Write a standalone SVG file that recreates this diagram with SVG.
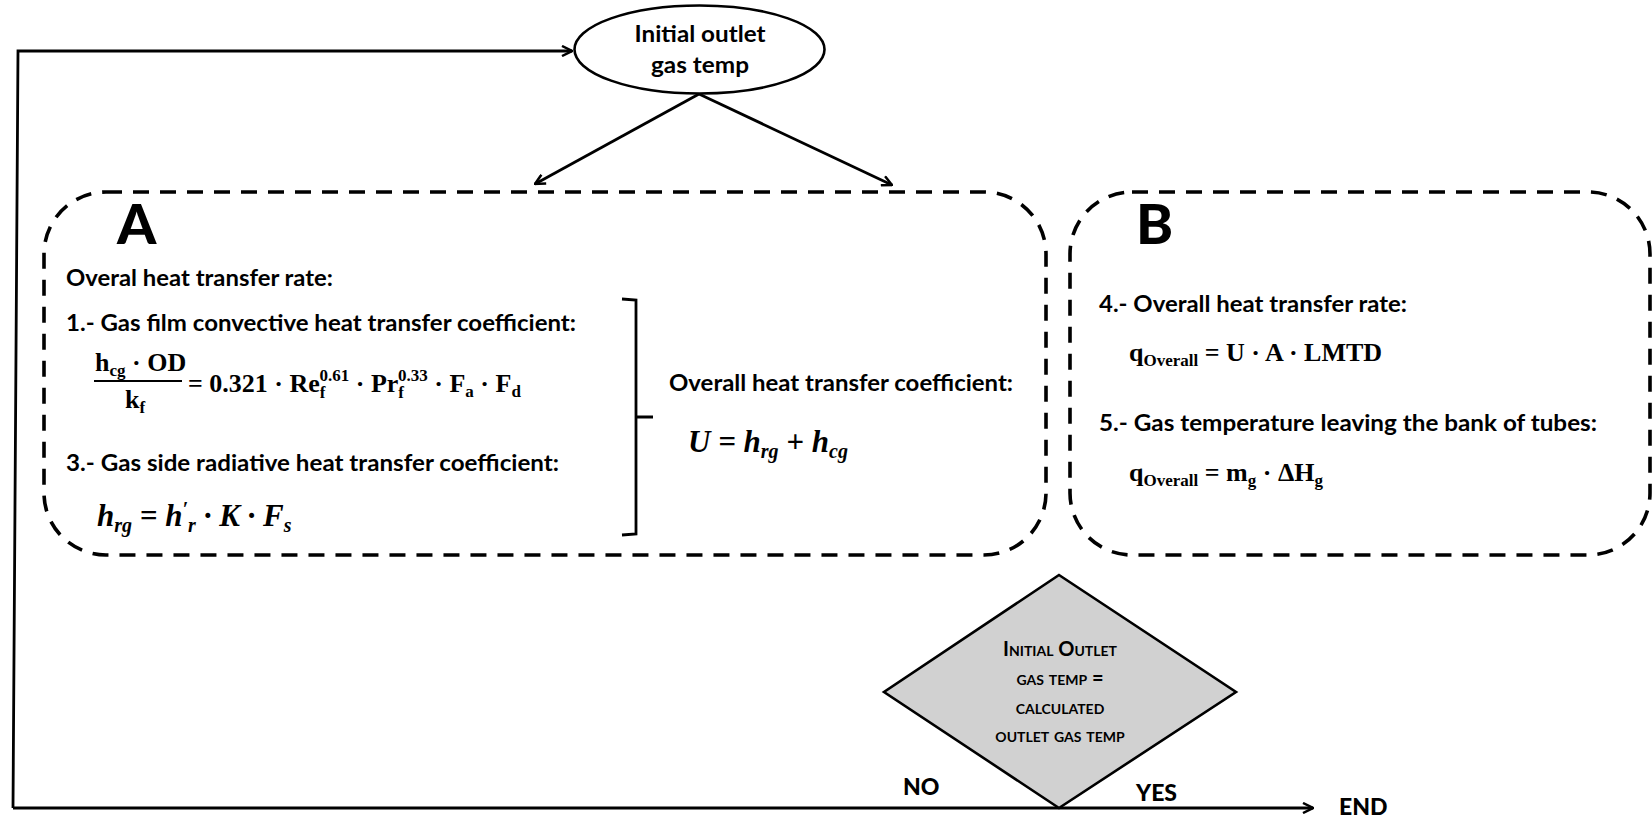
<svg xmlns="http://www.w3.org/2000/svg" width="1652" height="817" viewBox="0 0 1652 817">
<defs>
<marker id="arr" viewBox="0 0 12 12" refX="11" refY="6" markerWidth="12" markerHeight="12" markerUnits="userSpaceOnUse" orient="auto">
<path d="M1,1 L11,6 L1,11" fill="none" stroke="#000" stroke-width="2.5"/>
</marker>
<style>
.ln{fill:none;stroke:#000;stroke-width:2.8}
.box{fill:none;stroke:#000;stroke-width:3.6;stroke-dasharray:16 11}
.lbl{font-family:Lato,"Open Sans",sans-serif;font-weight:700;font-size:22px;fill:#000}
.big{font-family:Lato,"Liberation Sans",sans-serif;font-weight:900;font-size:56px;fill:#000}
.m{font-family:"Liberation Serif",serif;font-weight:700;font-size:26px;fill:#000}
.mi{font-family:"Liberation Serif",serif;font-weight:700;font-style:italic;font-size:31px;fill:#000}
.sub{font-size:17px}
.isub{font-size:20px}
.dia{font-family:Lato,"Open Sans",sans-serif;font-weight:700;font-size:20px;font-variant:small-caps;fill:#000;text-anchor:middle}
.yn{font-family:Lato,"Liberation Sans",sans-serif;font-weight:900;font-size:23px;fill:#000}
</style>
</defs>

<g id="connectors">
<path class="ln" d="M699,94 L535,184" marker-end="url(#arr)"/>
<path class="ln" d="M699,94 L892,185" marker-end="url(#arr)"/>
<path class="ln" d="M13,808 L18,51 L572,51" marker-end="url(#arr)"/>
<path class="ln" d="M13,808 L1313,808" marker-end="url(#arr)"/>
</g>

<g id="start">
<ellipse cx="699.5" cy="49.5" rx="125" ry="44" fill="#fff" stroke="#000" stroke-width="2.6"/>
<text class="lbl" x="700" y="42" text-anchor="middle" textLength="131" lengthAdjust="spacingAndGlyphs">Initial outlet</text>
<text class="lbl" x="700" y="73" text-anchor="middle" textLength="98" lengthAdjust="spacingAndGlyphs">gas temp</text>
</g>

<g id="boxA">
<rect class="box" x="44" y="192" width="1002" height="363" rx="62" ry="62"/>
<text class="big" x="117" y="244">A</text>
<text class="lbl" x="66" y="286" textLength="267" lengthAdjust="spacingAndGlyphs">Overal heat transfer rate:</text>
<text class="lbl" x="66" y="331" textLength="510" lengthAdjust="spacingAndGlyphs">1.- Gas film convective heat transfer coefficient:</text>
<text class="m" x="95" y="371">h<tspan class="sub" dy="5">cg</tspan><tspan dy="-5"> · OD</tspan></text>
<line x1="94" y1="381" x2="182" y2="381" stroke="#000" stroke-width="2"/>
<text class="m" x="125" y="408">k<tspan class="sub" dy="5">f</tspan></text>
<text class="m" x="188" y="392">= 0.321 · Re<tspan class="sub" dy="6">f</tspan><tspan class="sub" dx="-6" dy="-17">0.61</tspan><tspan dy="11"> · Pr</tspan><tspan class="sub" dy="6">f</tspan><tspan class="sub" dx="-6" dy="-17">0.33</tspan><tspan dy="11"> · F</tspan><tspan class="sub" dy="5">a</tspan><tspan dy="-5"> · F</tspan><tspan class="sub" dy="5">d</tspan></text>
<text class="lbl" x="66" y="471" textLength="493" lengthAdjust="spacingAndGlyphs">3.- Gas side radiative heat transfer coefficient:</text>
<text class="mi" x="97" y="526">h<tspan class="isub" dy="6">rg</tspan><tspan dy="-6"> = h</tspan><tspan class="isub" dy="-10">′</tspan><tspan class="isub" dy="16">r</tspan><tspan dy="-6"> · K · F</tspan><tspan class="isub" dy="6">s</tspan></text>
<path class="ln" d="M622,299 L636,300 L636,417 L653,417 M636,417 L636,534 L622,535"/>
<text class="lbl" x="669" y="391" textLength="344" lengthAdjust="spacingAndGlyphs">Overall heat transfer coefficient:</text>
<text class="mi" x="688" y="452">U = h<tspan class="isub" dy="6">rg</tspan><tspan dy="-6"> + h</tspan><tspan class="isub" dy="6">cg</tspan></text>
</g>

<g id="boxB">
<rect class="box" x="1070" y="192" width="580" height="363" rx="62" ry="62"/>
<text class="big" x="1136" y="244">B</text>
<text class="lbl" x="1099" y="312" textLength="308" lengthAdjust="spacingAndGlyphs">4.- Overall heat transfer rate:</text>
<text class="m" x="1129" y="361" font-size="25">q<tspan class="sub" dy="5">Overall</tspan><tspan dy="-5"> = U · A · LMTD</tspan></text>
<text class="lbl" x="1099" y="431" textLength="498" lengthAdjust="spacingAndGlyphs">5.- Gas temperature leaving the bank of tubes:</text>
<text class="m" x="1129" y="481" font-size="25">q<tspan class="sub" dy="5">Overall</tspan><tspan dy="-5"> = m</tspan><tspan class="sub" dy="5">g</tspan><tspan dy="-5"> · ΔH</tspan><tspan class="sub" dy="5">g</tspan></text>
</g>

<g id="decision">
<polygon points="1059,575 1236,692 1059,808 884,692" fill="#d1d1d1" stroke="#000" stroke-width="2.6"/>
<text class="dia" x="1060" y="656">Initial Outlet</text>
<text class="dia" x="1060" y="685">gas temp =</text>
<text class="dia" x="1060" y="714">calculated</text>
<text class="dia" x="1060" y="742">outlet gas temp</text>
</g>

<g id="labels">
<text class="yn" x="903" y="795">NO</text>
<text class="yn" x="1136" y="801">YES</text>
<text class="yn" x="1339" y="815">END</text>
</g>
</svg>
